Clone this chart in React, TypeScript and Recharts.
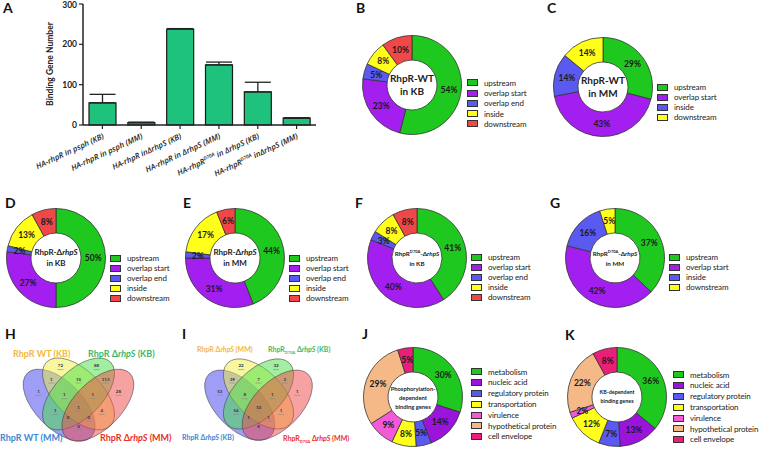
import React from 'react';
import { BarChart, Bar, XAxis, YAxis, ErrorBar, PieChart, Pie, Cell, Surface } from 'recharts';

const FONT = 'Lato, "Open Sans", "DejaVu Sans", sans-serif';
const INK = '#222';

// ---- panel A ----
const strainLabels = [
  'HA-rhpR in psph (KB)',
  'HA-rhpR in psph (MM)',
  'HA-rhpR inΔrhpS  (KB)',
  'HA-rhpR in ΔrhpS (MM)',
  'HA-rhpR^D70A^ in ΔrhpS (KB)',
  'HA-rhpR^D70A^ inΔrhpS (MM)',
];
const bindingCounts = [55, 6, 238, 149, 82, 17];
const bindingErrors = [21, 1, 1, 7, 24, 1];

// ---- location donuts (B-G) ----
const locNames5 = ['upstream', 'overlap start', 'overlap end', 'inside', 'downstream'];
const locColors5 = ['#1fc81f', '#a21ff0', '#5a5af0', '#ffff1a', '#f04848'];
const locNames4 = ['upstream', 'overlap start', 'inside', 'downstream'];
const locColors4 = ['#1fc81f', '#a21ff0', '#5a5af0', '#ffff1a'];

const wtKB = [54, 23, 5, 8, 10];
const wtMM = [29, 43, 14, 14];
const delKB = [50, 27, 2, 13, 8];
const delMM = [44, 31, 2, 17, 6];
const d70aKB = [41, 40, 3, 8, 8];
const d70aMM = [37, 42, 16, 5];

// ---- function donuts (J, K) ----
const funcNames = ['metabolism', 'nucleic acid', 'regulatory protein', 'transportation', 'virulence', 'hypothetical protein', 'cell envelope'];
const funcColors = ['#1fc81f', '#9a14dc', '#5a5af0', '#ffff1a', '#f25ad8', '#f5b887', '#e8207a'];
const phosphoGenes = [30, 14, 5, 8, 9, 29, 5];
const kbGenes = [36, 13, 7, 12, 2, 22, 8];

// ---- venn counts (H, I) ----
// order: blue, yellow, green, red, blue+yellow, yellow+green, green+red, blue+yellow+green,
// yellow+green+red, blue+green, all, yellow+red, blue+green+red, blue+yellow+red, blue+red
const vennH = [1, 72, 88, 28, 1, 15, 113, 1, 1, 1, 1, 4, 0, 0, 0];
const vennI = [53, 22, 32, 1, 39, 7, 3, 8, 1, 54, 10, 1, 1, 1, 8];

const VENN_ELLIPSES = [
  { cx: 0.35, cy: 0.53, rot: 45, fill: '#3d3df0' },
  { cx: 0.5, cy: 0.43, rot: 45, fill: '#f0f045' },
  { cx: 0.5, cy: 0.43, rot: -45, fill: '#45e045' },
  { cx: 0.65, cy: 0.53, rot: -45, fill: '#f04545' },
];
const VENN_SPOTS = [
  [0.19, 0.42], [0.36, 0.19], [0.64, 0.19], [0.81, 0.42], [0.29, 0.31], [0.5, 0.31], [0.71, 0.31],
  [0.39, 0.45], [0.61, 0.45], [0.32, 0.59], [0.5, 0.56], [0.68, 0.59], [0.42, 0.65], [0.58, 0.65], [0.5, 0.73],
];

const StrainTick = (props: any) => {
  const { x, y, payload } = props;
  const parts = String(payload.value).split('^');
  const tx = x + 2;
  const ty = y + 7;
  return (
    <text x={tx} y={ty} textAnchor="end" fontFamily='"Open Sans", sans-serif' fontSize={7.8} fontStyle="italic" fontWeight={600} fill={INK}
      transform={`rotate(-25, ${tx}, ${ty})`}>
      {parts.map((p, i) =>
        i % 2 === 1
          ? <tspan key={i} dy={-3} fontSize={5}>{p}</tspan>
          : <tspan key={i} dy={i > 0 ? 3 : 0}>{p}</tspan>
      )}
    </text>
  );
};

const Letter = ({ ch, x, y }: { ch: string; x: number; y: number }) => (
  <div style={{ position: 'absolute', left: x, top: y - 2, fontSize: 14, lineHeight: '14px', fontWeight: 700, color: '#111' }}>{ch}</div>
);

type DonutProps = {
  cx: number; cy: number;
  names: string[]; values: number[]; colors: string[];
  legendX: number; legendY: number; legendStep?: number; legendFont?: number;
  center: React.ReactNode; centerFont: number; centerLine?: number;
};

const Donut = ({ cx, cy, names, values, colors, legendX, legendY, legendStep = 10, legendFont = 8, center, centerFont, centerLine }: DonutProps) => {
  const data = names.map((name, i) => ({ name, value: values[i] }));
  const inner = 25;
  const outer = 49.5;
  const mid = (inner + outer) / 2;
  const box = 110;
  const c = box / 2;
  const renderPct = (p: any) => {
    const a = (-p.midAngle * Math.PI) / 180;
    return (
      <text x={c + mid * Math.cos(a)} y={c + mid * Math.sin(a)} textAnchor="middle" dominantBaseline="central"
        fontSize={8.5} fontWeight={700} fill="#1a1a1a">{p.value}%</text>
    );
  };
  return (
    <>
      <div style={{ position: 'absolute', left: cx - c, top: cy - c }}>
        <PieChart width={box} height={box} margin={{ top: 0, right: 0, bottom: 0, left: 0 }}>
          <Pie data={data} dataKey="value" cx={c} cy={c} innerRadius={inner} outerRadius={outer}
            startAngle={90} endAngle={-270} stroke="#333" strokeWidth={0.8}
            label={renderPct} labelLine={false} isAnimationActive={false}>
            {data.map((d, i) => <Cell key={d.name} fill={colors[i]} />)}
          </Pie>
        </PieChart>
      </div>
      <div style={{
        position: 'absolute', left: cx - inner, top: cy, width: inner * 2, transform: 'translateY(-50%)',
        textAlign: 'center', fontSize: centerFont, lineHeight: `${centerLine ?? centerFont * 1.45}px`, fontWeight: 700, color: INK, whiteSpace: 'nowrap',
      }}>{center}</div>
      {names.map((n, i) => (
        <div key={n} style={{ position: 'absolute', left: legendX, top: legendY + i * legendStep - legendStep / 2, height: legendStep, display: 'flex', alignItems: 'center', whiteSpace: 'nowrap', lineHeight: `${legendStep}px` }}>
          <div style={{ width: 11, height: 7, boxSizing: 'border-box', border: '1px solid #333', background: colors[i] }} />
          <span style={{ marginLeft: 6, fontSize: legendFont, letterSpacing: -0.12, color: INK }}>{n}</span>
        </div>
      ))}
    </>
  );
};

const Venn = ({ ox, oy, sx, sy, counts }: { ox: number; oy: number; sx: number; sy: number; counts: number[] }) => (
  <g>
    {VENN_ELLIPSES.map((e, i) => (
      <ellipse key={i}
        cx={ox + e.cx * sx} cy={oy + e.cy * sy} rx={0.35 * sx} ry={0.2 * sy * 1.05}
        transform={`rotate(${e.rot}, ${ox + e.cx * sx}, ${oy + e.cy * sy})`}
        fill={e.fill} fillOpacity={0.5} stroke="#444" strokeOpacity={0.7} strokeWidth={0.8} />
    ))}
    {counts.map((n, i) => (
      <g key={i}>
        <text x={ox + VENN_SPOTS[i][0] * sx} y={oy + VENN_SPOTS[i][1] * sy} textAnchor="middle" fontSize={4.5} fontWeight={700} fill="#333">{n}</text>
        <line x1={ox + VENN_SPOTS[i][0] * sx - 3} x2={ox + VENN_SPOTS[i][0] * sx + 3} y1={oy + VENN_SPOTS[i][1] * sy + 2.5} y2={oy + VENN_SPOTS[i][1] * sy + 2.5} stroke="#888" strokeWidth={0.6} />
      </g>
    ))}
  </g>
);

const DelS = () => <>Δ<i>rhpS</i></>;

export default function App() {
  const barData = strainLabels.map((name, i) => ({ name, count: bindingCounts[i], err: [0, bindingErrors[i]] }));
  return (
    <div style={{ position: 'absolute', left: 0, top: 0, width: 760, height: 449, background: '#fff', fontFamily: FONT, overflow: 'hidden' }}>
      <Letter ch="A" x={3} y={3} />
      <div style={{ position: 'absolute', left: 0, top: 0 }}>
        <BarChart width={330} height={178} data={barData} margin={{ top: 4, right: 14, bottom: 0, left: 43 }} barSize={27}>
          <XAxis dataKey="name" interval={0} height={53} tick={<StrainTick />} tickSize={4}
            axisLine={{ stroke: INK, strokeWidth: 1.5 }} tickLine={{ stroke: INK, strokeWidth: 1.2 }} />
          <YAxis width={40} domain={[0, 300]} ticks={[0, 100, 200, 300]} tickSize={4}
            tick={{ fontSize: 8.5, fontWeight: 700, fill: INK }}
            axisLine={{ stroke: INK, strokeWidth: 1.5 }} tickLine={{ stroke: INK, strokeWidth: 1.2 }} />
          <Bar dataKey="count" fill="#1ec27c" stroke="#1a1a1a" strokeWidth={1.2} isAnimationActive={false}>
            <ErrorBar dataKey="err" width={13} stroke={INK} strokeWidth={1.3} direction="y" />
          </Bar>
        </BarChart>
      </div>
      <div style={{ position: 'absolute', left: 50, top: 64, transform: 'translate(-50%, -50%) rotate(-90deg)', fontSize: 8.5, fontWeight: 700, color: INK, whiteSpace: 'nowrap' }}>
        Binding Gene Number
      </div>

      <Letter ch="B" x={356} y={3} />
      <Donut cx={412} cy={85} names={locNames5} values={wtKB} colors={locColors5} legendX={467} legendY={83}
        legendStep={10.2} center={<>RhpR-WT<br />in KB</>} centerFont={10} centerLine={13} />

      <Letter ch="C" x={547} y={3} />
      <Donut cx={603} cy={87} names={locNames4} values={wtMM} colors={locColors4} legendX={657} legendY={87}
        center={<>RhpR-WT<br />in MM</>} centerFont={10} centerLine={13} />

      <Letter ch="D" x={5} y={198} />
      <Donut cx={56} cy={258} names={locNames5} values={delKB} colors={locColors5} legendX={110} legendY={258}
        center={<>RhpR-<DelS /><br />in KB</>} centerFont={8} centerLine={11} />

      <Letter ch="E" x={183} y={198} />
      <Donut cx={235} cy={258} names={locNames5} values={delMM} colors={locColors5} legendX={289} legendY={258}
        center={<>RhpR-<DelS /><br />in MM</>} centerFont={8} centerLine={11} />

      <Letter ch="F" x={355} y={198} />
      <Donut cx={417} cy={258} names={locNames5} values={d70aKB} colors={locColors5} legendX={471} legendY={257}
        center={<>RhpR<sup style={{ fontSize: 4 }}>D70A</sup>-<DelS /><br />in KB</>} centerFont={6.3} centerLine={10} />

      <Letter ch="G" x={550} y={198} />
      <Donut cx={615} cy={258} names={locNames4} values={d70aMM} colors={locColors4} legendX={669} legendY={257}
        center={<>RhpR<sup style={{ fontSize: 4 }}>D70A</sup>-<DelS /><br />in MM</>} centerFont={6.3} centerLine={10} />

      <Letter ch="H" x={5} y={329} />
      <Letter ch="I" x={182} y={329} />
      <div style={{ position: 'absolute', left: 0, top: 0 }}>
        <Surface width={360} height={449} viewBox={{ x: 0, y: 0, width: 360, height: 449 }}>
          <Venn ox={14} oy={345.8} sx={129} sy={112} counts={vennH} />
          <Venn ox={196} oy={345.8} sx={125} sy={112} counts={vennI} />
          <g fontWeight={700} fontSize={9}>
            <text x={13} y={357} fill="#f5b83a">RhpR WT (KB)</text>
            <text x={88} y={357} fill="#3cb86a">RhpR Δ<tspan fontStyle="italic">rhpS</tspan> (KB)</text>
            <text x={0} y={441} fill="#3f86d4">RhpR WT (MM)</text>
            <text x={100} y={441} fill="#e8302a">RhpR Δ<tspan fontStyle="italic">rhpS</tspan> (MM)</text>
          </g>
          <g fontWeight={700} fontSize={7}>
            <text x={197} y={352} fill="#f5b83a">RhpR Δ<tspan fontStyle="italic">rhpS</tspan> (MM)</text>
            <text x={268} y={352} fill="#3cb86a">RhpR<tspan fontSize={4} dy={2}>D70A</tspan><tspan dy={-2}> Δ</tspan><tspan fontStyle="italic">rhpS</tspan> (KB)</text>
            <text x={182} y={440} fill="#3f86d4">RhpR Δ<tspan fontStyle="italic">rhpS</tspan> (KB)</text>
            <text x={283} y={441} fill="#e8302a">RhpR<tspan fontSize={4} dy={2}>D70A</tspan><tspan dy={-2}> Δ</tspan><tspan fontStyle="italic">rhpS</tspan> (MM)</text>
          </g>
        </Surface>
      </div>

      <Letter ch="J" x={362} y={329} />
      <Donut cx={413} cy={397} names={funcNames} values={phosphoGenes} colors={funcColors} legendX={471} legendY={372}
        legendStep={10.8} legendFont={8} center={<>Phosphorylation-<br />dependent<br />binding genes</>} centerFont={5.8} centerLine={9} />

      <Letter ch="K" x={565} y={330} />
      <Donut cx={617} cy={397} names={funcNames} values={kbGenes} colors={funcColors} legendX={673} legendY={375}
        legendStep={10.8} legendFont={8} center={<>KB-dependent<br />binding genes</>} centerFont={5.4} centerLine={9} />
    </div>
  );
}
